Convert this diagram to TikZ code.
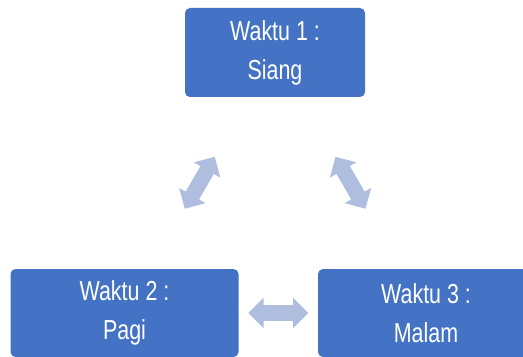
\documentclass[tikz,border=0pt]{standalone}
\usepackage{fontspec}
\newfontfamily\boxfont{Liberation Sans}[FakeStretch=0.78]
\definecolor{boxblue}{RGB}{68,114,196}
\definecolor{arrowblue}{RGB}{175,189,223}
\usetikzlibrary{positioning}
\usetikzlibrary{shapes.arrows}
\tikzset{x=0.75pt, y=-0.75pt, % one unit is one pixel of the original
  every node/.style={align=center},
  waktu/.style={ % the blue boxes
    rounded corners=3.75pt,
    fill=boxblue,
    text=white,
    font=\boxfont\fontsize{20.6}{29.3}\selectfont,
    minimum width=135pt,
    minimum height=66.75pt},
  wide/.style={ % lower boxes are wider
    minimum width=171pt,
    minimum height=66pt},
  cyclearrow/.style={ % two-headed block arrow
    shape=double arrow,
    fill=arrowblue,
    inner xsep=0pt,
    inner ysep=5.625pt,
    minimum height=45pt,
    double arrow head extend=5.625pt}}

\begin{document}
\begin{tikzpicture}
  \useasboundingbox (0,0) rectangle (523,356);
  \clip (0,0) rectangle (523,356);

  \node [waktu] (siang) at (275,52.5) {Waktu 1 :\\ Siang};
  \node [waktu, wide] (pagi) at (124.5,313) {Waktu 2 :\\ Pagi};
  \node [waktu, wide, minimum width=162pt, right=59.25pt of pagi] (malam) {Waktu 3 :\\ Malam};

  % arrows half way between the boxes
  \path (pagi.center) -- node [cyclearrow, sloped] {} (siang.center);
  \path (siang.center) -- node [cyclearrow, sloped] {} (malam.center);
  \path (pagi.east) -- node [cyclearrow] {} (malam.west);
\end{tikzpicture}
\end{document}
